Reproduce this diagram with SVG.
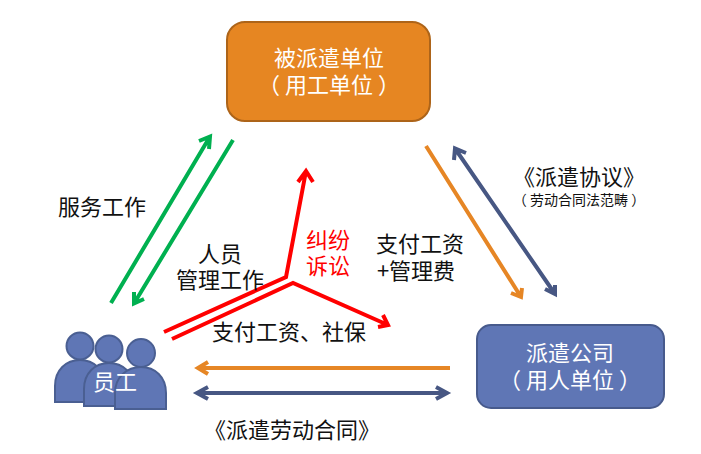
<svg xmlns="http://www.w3.org/2000/svg" width="701" height="454" viewBox="0 0 701 454">
<style>
text{font-family:"Noto Sans CJK SC","Noto Sans",sans-serif;font-size:22px;fill:#111;text-anchor:middle}
.w{fill:#fff}
.r{fill:#f00}
.s{font-size:14px}
.box{stroke-width:2}
.p{fill:#5f76b5;stroke:#4a5f92;stroke-width:2}
.l{fill:none;stroke-width:4;stroke-linejoin:miter}
.g{stroke:#00b050}.o{stroke:#e68625}.n{stroke:#475783}.rd{stroke:#f00}
</style>
<rect width="701" height="454" fill="#fff"/>
<g id="connectors">
<path class="l g" d="M111 303L210 136.500M199 141L210 136.500L209 149"/>
<path class="l g" d="M233 140L134 303.500M144 299L134 303.500L134 292"/>
<path class="l rd" d="M164 332L286 277L306 171M298 182L306 171L313 182"/>
<path class="l rd" d="M172 339L293 283L388 325M378 327L388 325L383 315"/>
<path class="l o" d="M426 146L521 297M511 293L521 297L522 288"/>
<path class="l n" d="M455 148.500L555 294M454 160L455 148.500L466 153M545 289L555 294L555 285"/>
<path class="l o" d="M450 368H198M208 362L198 368L208 374"/>
<path class="l n" d="M197 393H447M208 387L197 393L208 399M436 387L447 393L436 399"/>
</g>
<g id="node-client">
<rect class="box" x="227" y="22" width="203" height="99" rx="18" fill="#e68622" stroke="#ad6419"/>
<text class="w" x="329" y="66">被派遣单位<tspan x="329" dy="27">（ 用工单位 ）</tspan></text>
</g>
<g id="node-agency">
<rect class="box" x="477" y="325" width="187" height="83" rx="14" fill="#5f76b5" stroke="#475a8c"/>
<text class="w" x="570" y="361">派遣公司<tspan x="570" dy="27">（ 用人单位 ）</tspan></text>
</g>
<g id="node-staff">
<circle class="p" cx="80" cy="346" r="13.500"/>
<path class="p" d="M55 402V386C55 370 66 360 80 360C94 360 105 370 105 386V402Z"/>
<circle class="p" cx="109" cy="349" r="13.500"/>
<path class="p" d="M84 406V389C84 373 95 363 109 363C123 363 134 373 134 389V406Z"/>
<circle class="p" cx="141" cy="353" r="14"/>
<path class="p" d="M115 409V393C115 377 127 367 141 367C155 367 166 377 166 393V409Z"/>
<text class="w" x="115" y="390">员工</text>
</g>
<g id="labels">
<text x="102" y="215">服务工作</text>
<text x="220" y="262">人员<tspan x="220" dy="26">管理工作</tspan></text>
<text class="r" x="328" y="248">纠纷<tspan x="328" dy="26">诉讼</tspan></text>
<text x="289" y="340">支付工资、社保</text>
<text x="420" y="252">支付工资<tspan x="416" dy="27">+管理费</tspan></text>
<text x="579" y="185">《派遣协议》<tspan class="s" x="579" dy="20">（ 劳动合同法范畴 ）</tspan></text>
<text x="292" y="438">《派遣劳动合同》</text>
</g>
</svg>
